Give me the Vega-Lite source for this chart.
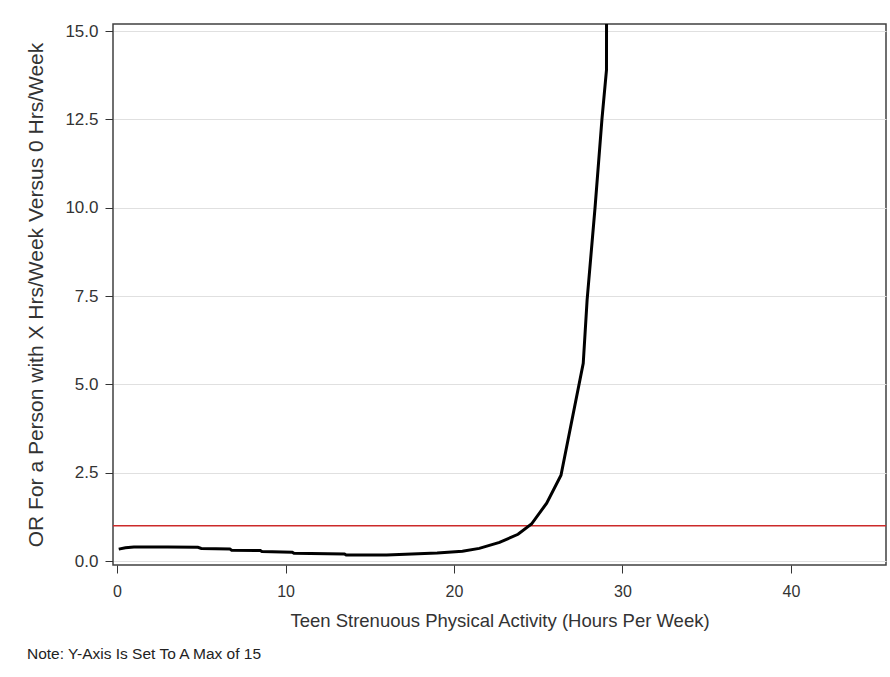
{
  "$schema": "https://vega.github.io/schema/vega-lite/v6.json",
  "autosize": "none",
  "width": 773,
  "height": 541,
  "padding": {"left": 113, "top": 24, "right": 4, "bottom": 112},
  "background": "white",
  "config": {
    "font": "Liberation Sans",
    "view": {"stroke": "#404040", "strokeWidth": 1.5},
    "axis": {"labelFont": "Liberation Sans", "titleFont": "Liberation Sans", "labelColor": "#333333", "titleColor": "#333333", "titleFontWeight": "normal", "domain": false, "tickColor": "#333333", "tickSize": 8}
  },
  "title": {"text": "Note: Y-Axis Is Set To A Max of 15", "orient": "bottom", "anchor": "start", "frame": "group", "dx": -86, "offset": 17, "fontSize": 15.5, "fontWeight": "normal", "color": "#222222", "font": "Liberation Sans"},
  "datasets": {
    "curve": [
      {"x": 0.1, "y": 0.34},
      {"x": 0.5, "y": 0.38},
      {"x": 1.0, "y": 0.40},
      {"x": 3.0, "y": 0.40},
      {"x": 4.8, "y": 0.39},
      {"x": 5.0, "y": 0.36},
      {"x": 6.7, "y": 0.34},
      {"x": 6.8, "y": 0.31},
      {"x": 8.5, "y": 0.30},
      {"x": 8.6, "y": 0.27},
      {"x": 10.4, "y": 0.25},
      {"x": 10.5, "y": 0.22},
      {"x": 13.5, "y": 0.20},
      {"x": 13.6, "y": 0.17},
      {"x": 16.0, "y": 0.17},
      {"x": 17.5, "y": 0.20},
      {"x": 19.0, "y": 0.23},
      {"x": 20.5, "y": 0.28},
      {"x": 21.5, "y": 0.36},
      {"x": 22.7, "y": 0.53},
      {"x": 23.8, "y": 0.76},
      {"x": 24.6, "y": 1.05},
      {"x": 25.5, "y": 1.64},
      {"x": 26.35, "y": 2.43},
      {"x": 27.67, "y": 5.6},
      {"x": 27.9, "y": 7.39},
      {"x": 28.37, "y": 10.0},
      {"x": 28.78, "y": 12.5},
      {"x": 29.05, "y": 13.9},
      {"x": 29.08, "y": 30.0}
    ],
    "ref": [{"y": 1.0}]
  },
  "layer": [
    {
      "data": {"name": "ref"},
      "mark": {"type": "rule", "color": "#cc2a2a", "strokeWidth": 1.5},
      "encoding": {"y": {"field": "y", "type": "quantitative"}}
    },
    {
      "data": {"name": "curve"},
      "mark": {"type": "line", "color": "#000000", "strokeWidth": 3, "clip": true},
      "encoding": {
        "x": {
          "field": "x", "type": "quantitative",
          "scale": {"domain": [-0.24, 45.64], "nice": false, "zero": false},
          "axis": {"values": [0, 10, 20, 30, 40], "grid": false, "labelFontSize": 16, "titleFontSize": 18.5, "labelPadding": 10, "titlePadding": 12, "title": "Teen Strenuous Physical Activity (Hours Per Week)"}
        },
        "y": {
          "field": "y", "type": "quantitative",
          "scale": {"domain": [-0.11, 15.2], "nice": false, "zero": false},
          "axis": {"values": [0, 2.5, 5, 7.5, 10, 12.5, 15], "format": ".1f", "grid": true, "gridColor": "#e0e0e0", "gridWidth": 1.2, "labelFontSize": 17, "titleFontSize": 21, "labelPadding": 7, "titlePadding": 18, "title": "OR For a Person with X Hrs/Week Versus 0 Hrs/Week"}
        }
      }
    }
  ]
}
